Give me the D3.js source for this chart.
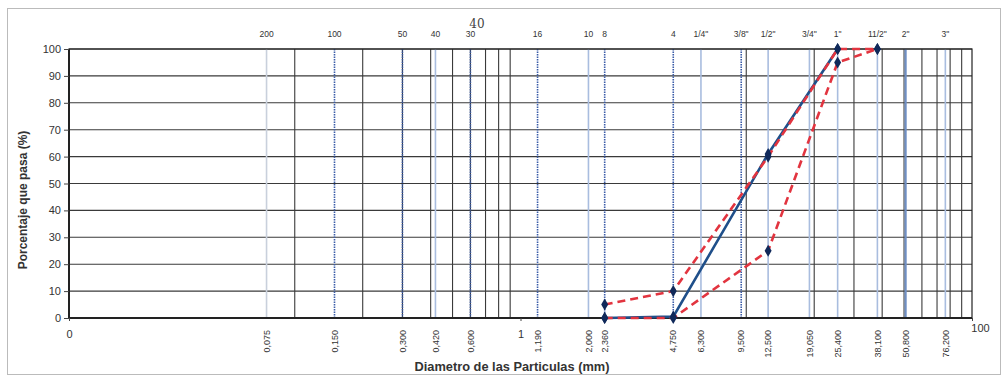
<!DOCTYPE html>
<html><head><meta charset="utf-8">
<script src="https://cdn.jsdelivr.net/npm/d3@7"></script>
<style>html,body{margin:0;padding:0;background:#fff;}svg{display:block;font-family:Arial,"Liberation Sans",sans-serif;}</style>
</head><body><svg id="c" width="1001" height="376"></svg>
<script>
// ---- data ----
const sieveNames = ["200","100","50","40","30","16","10","8","4","1/4\"","3/8\"","1/2\"","3/4\"","1\"","11/2\"","2\"","3\""];
const sieveSizes = [0.075,0.15,0.3,0.42,0.6,1.19,2.0,2.36,4.75,6.3,9.5,12.5,19.05,25.4,38.1,50.8,76.2];
const sieveSizeLabels = ["0,075","0,150","0,300","0,420","0,600","1,190","2,000","2,360","4,750","6,300","9,500","12,500","19,050","25,400","38,100","50,800","76,200"];
const usedSieves = [0.15,0.3,0.6,1.19,2.36,4.75,9.5];
const gridValues = [0.1,0.2,0.3,0.4,0.5,0.6,0.7,0.8,0.9,10,20,30,40,50,60,70,80,90];
const xTickValues = [0.01,1,100];
const xTickLabels = ["0","1","100"];
const yTickValues = [0,10,20,30,40,50,60,70,80,90,100];

const gradSizes = [2.36,4.75,12.5,25.4];
const gradPass  = [0,0.5,61,100];
const upperSizes = [2.36,4.75,12.5,25.4,38.1];
const upperPass  = [5,10,60,100,100];
const lowerSizes = [2.36,4.75,12.5,25.4,38.1];
const lowerPass  = [0,0,25,95,100];

// ---- drawing ----
const svg = d3.select("#c");
const x = d3.scaleLog().domain([0.01,100]).range([69,972]);
const y = d3.scaleLinear().domain([0,100]).range([318,49]);

// outer chart border
svg.append("rect").attr("x",7.5).attr("y",8.5).attr("width",993).attr("height",366)
  .attr("fill","none").attr("stroke","#bbb").attr("stroke-width",1);

// horizontal gridlines
svg.append("g").selectAll("line").data(yTickValues).join("line")
  .attr("x1",x(0.01)).attr("x2",x(100)).attr("y1",d=>y(d)).attr("y2",d=>y(d))
  .attr("stroke","#3a3a3a").attr("stroke-width",1.1);

// vertical gridlines
svg.append("g").selectAll("line").data(gridValues).join("line")
  .attr("x1",d=>x(d)).attr("x2",d=>x(d)).attr("y1",y(0)).attr("y2",y(100))
  .attr("stroke","#3a3a3a").attr("stroke-width",1.1);

// sieve lines
const sv = svg.append("g");
sieveSizes.forEach((s,i)=>{
  const used = usedSieves.includes(s);
  const dark = s===50.8;
  sv.append("line").attr("x1",x(s)).attr("x2",x(s)).attr("y1",y(0)).attr("y2",y(100))
    .attr("stroke", used ? "#3b5ca8" : (dark ? "#6f8fc4" : (s===0.075 ? "#c9d0dc" : "#a9bddf")))
    .attr("stroke-width", used ? 1.6 : (dark ? 2.2 : 1.6))
    .attr("stroke-dasharray", used ? "1.5,1" : null);
});

// top sieve names
svg.append("g").selectAll("text").data(sieveNames).join("text")
  .attr("x",(d,i)=>x(sieveSizes[i])).attr("y",37)
  .attr("text-anchor","middle").attr("font-size",8.5).attr("fill","#333").text(d=>d);
// handwritten annotation
svg.append("text").attr("x",477).attr("y",28).attr("text-anchor","middle")
  .attr("font-family","DejaVu Serif, serif").attr("font-size",12).attr("fill","#444").text("40");

// bottom rotated size labels
svg.append("g").selectAll("text").data(sieveSizeLabels).join("text")
  .attr("transform",(d,i)=>`translate(${x(sieveSizes[i])},330) rotate(-90)`)
  .attr("dy","0.35em").attr("text-anchor","end").attr("font-size",9).attr("fill","#333").text(d=>d);

// plot frame
svg.append("rect").attr("x",x(0.01)).attr("y",y(100)).attr("width",x(100)-x(0.01)).attr("height",y(0)-y(100))
  .attr("fill","none").attr("stroke","#222").attr("stroke-width",1.2);
svg.append("line").attr("x1",x(0.01)).attr("x2",x(100)).attr("y1",y(0)).attr("y2",y(0)).attr("stroke","#222").attr("stroke-width",2);
svg.append("line").attr("x1",x(0.01)).attr("x2",x(0.01)).attr("y1",y(0)).attr("y2",y(100)).attr("stroke","#222").attr("stroke-width",2);

// y axis
const ya = svg.append("g").attr("transform",`translate(${x(0.01)},0)`)
  .call(d3.axisLeft(y).tickValues(yTickValues).tickSize(5).tickPadding(3));
ya.select(".domain").remove();
ya.selectAll("line").attr("stroke","#444");
ya.selectAll("text").attr("font-size",11).attr("fill","#333").attr("font-family","Arial, Liberation Sans, sans-serif");

// x axis
const xa = svg.append("g").attr("transform",`translate(0,${y(0)})`)
  .call(d3.axisBottom(x).tickValues(xTickValues).tickFormat((d,i)=>xTickLabels[i]).tickSize(3).tickPadding(9));
xa.select(".domain").remove();
xa.selectAll("line").attr("stroke","#444");
xa.selectAll("text").attr("font-size",11).attr("fill","#333").attr("font-family","Arial, Liberation Sans, sans-serif");
xa.selectAll(".tick").filter(d=>d===100).select("text").attr("dx",8).attr("dy","0.2em");

// lines
const line = d3.line().x(d=>x(d[0])).y(d=>y(d[1]));
const grad = gradSizes.map((s,i)=>[s,gradPass[i]]);
const upper = upperSizes.map((s,i)=>[s,upperPass[i]]);
const lower = lowerSizes.map((s,i)=>[s,lowerPass[i]]);

svg.append("path").datum(grad).attr("d",line).attr("fill","none")
  .attr("stroke","#1f4f8a").attr("stroke-width",2.6);
[upper,lower].forEach(dat=>{
  svg.append("path").datum(dat).attr("d",line).attr("fill","none")
    .attr("stroke","#e2343f").attr("stroke-width",2.6).attr("stroke-dasharray","8,5");
});

// markers
const sym = d3.symbol().type(d3.symbolDiamond).size(42);
[grad,upper,lower].forEach(dat=>{
  svg.append("g").selectAll("path").data(dat).join("path")
    .attr("transform",d=>`translate(${x(d[0])},${y(d[1])})`)
    .attr("d",sym).attr("fill","#10295a");
});

// axis titles
svg.append("text").attr("transform","translate(27,200) rotate(-90)")
  .attr("text-anchor","middle").attr("font-size",12).attr("font-weight","bold").attr("fill","#333")
  .text("Porcentaje que pasa (%)");
svg.append("text").attr("x",512).attr("y",371)
  .attr("text-anchor","middle").attr("font-size",12.8).attr("font-weight","bold").attr("fill","#333")
  .text("Diametro de las Particulas (mm)");
</script></body></html>
